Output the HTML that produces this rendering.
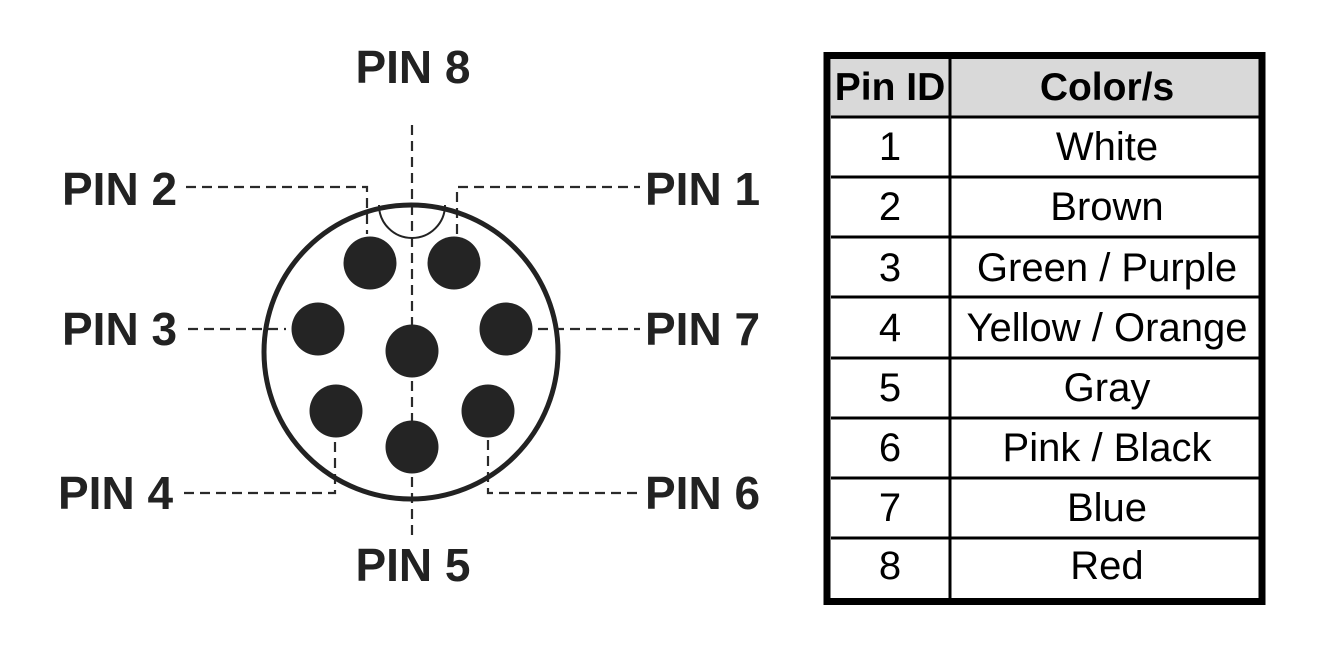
<!DOCTYPE html>
<html><head><meta charset="utf-8"><style>
html,body{margin:0;padding:0;background:#fff;}
svg{display:block;}
</style></head><body>
<svg width="1324" height="661" viewBox="0 0 1324 661" xmlns="http://www.w3.org/2000/svg">
<rect width="1324" height="661" fill="#fff"/>
<g stroke="#2a2a2a" stroke-width="2.2" fill="none" stroke-dasharray="10,6">
  <line x1="412" y1="125" x2="412" y2="535"/>
  <polyline points="186,187 367,187 367,234"/>
  <polyline points="457,234 457,187 640,187"/>
  <line x1="188" y1="329" x2="286" y2="329"/>
  <line x1="538" y1="329" x2="640" y2="329"/>
  <polyline points="184,493 335,493 335,440"/>
  <polyline points="488,440 488,493 640,493"/>
</g>
<circle cx="411" cy="352" r="147" fill="none" stroke="#222" stroke-width="5"/>
<path d="M379,205 A33,33 0 0 0 445,205" fill="none" stroke="#222" stroke-width="2"/>
<g fill="#242424">
  <circle cx="370" cy="263" r="26.5"/>
  <circle cx="454" cy="263" r="26.5"/>
  <circle cx="318" cy="329" r="26.5"/>
  <circle cx="506" cy="329" r="26.5"/>
  <circle cx="412" cy="351" r="26.5"/>
  <circle cx="336" cy="411" r="26.5"/>
  <circle cx="488" cy="411" r="26.5"/>
  <circle cx="412" cy="447" r="26.5"/>
</g>
<g font-family="Liberation Sans, sans-serif" font-weight="bold" font-size="46" fill="#222">
  <text x="413" y="83" text-anchor="middle">PIN 8</text>
  <text x="62" y="205">PIN 2</text>
  <text x="645" y="205">PIN 1</text>
  <text x="62" y="345">PIN 3</text>
  <text x="645" y="345">PIN 7</text>
  <text x="58" y="509">PIN 4</text>
  <text x="645" y="509">PIN 6</text>
  <text x="413" y="581" text-anchor="middle">PIN 5</text>
</g>
<rect x="827" y="56" width="435" height="545" fill="#fff"/>
<rect x="831" y="59" width="428" height="57" fill="#d9d9d9"/>
<g stroke="#000" stroke-width="3">
  <line x1="831" y1="117" x2="1259" y2="117"/>
  <line x1="831" y1="177" x2="1259" y2="177"/>
  <line x1="831" y1="237" x2="1259" y2="237"/>
  <line x1="831" y1="297" x2="1259" y2="297"/>
  <line x1="831" y1="358" x2="1259" y2="358"/>
  <line x1="831" y1="418" x2="1259" y2="418"/>
  <line x1="831" y1="478" x2="1259" y2="478"/>
  <line x1="831" y1="538" x2="1259" y2="538"/>
  <line x1="950" y1="58" x2="950" y2="598"/>
</g>
<rect x="827" y="55.5" width="435" height="546" fill="none" stroke="#000" stroke-width="7"/>
<g font-family="Liberation Sans, sans-serif" font-weight="bold" font-size="39" fill="#000" text-anchor="middle">
  <text x="890" y="100">Pin ID</text>
  <text x="1107" y="100">Color/s</text>
</g>
<g font-family="Liberation Sans, sans-serif" font-size="40" fill="#000" text-anchor="middle">
  <text x="890" y="160">1</text><text x="1107" y="160">White</text>
  <text x="890" y="220">2</text><text x="1107" y="220">Brown</text>
  <text x="890" y="281">3</text><text x="1107" y="281">Green / Purple</text>
  <text x="890" y="341">4</text><text x="1107" y="341">Yellow / Orange</text>
  <text x="890" y="401">5</text><text x="1107" y="401">Gray</text>
  <text x="890" y="461">6</text><text x="1107" y="461">Pink / Black</text>
  <text x="890" y="521">7</text><text x="1107" y="521">Blue</text>
  <text x="890" y="579">8</text><text x="1107" y="579">Red</text>
</g>
</svg>
</body></html>
